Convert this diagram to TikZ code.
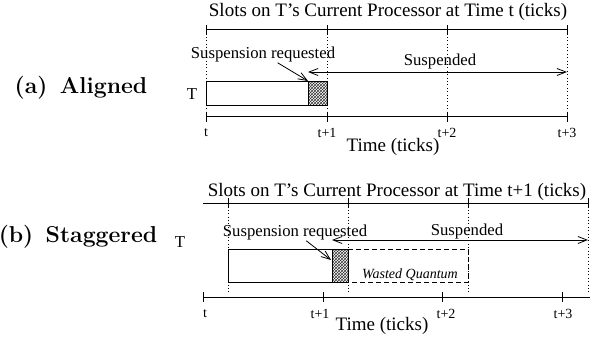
\documentclass[tikz,border=0pt]{standalone}
\usepackage{fontspec}
\newfontfamily\timesfont{Liberation Serif}
\usetikzlibrary{arrows.meta,patterns}

\tikzset{
  axis/.style={line width=1pt},
  slotline/.style={dash pattern=on 0.8pt off 2.6pt, line width=0.8pt},
  job/.style={draw, line width=1pt},
  hatchbox/.style={draw, line width=1pt, pattern=crosshatch, pattern color=black!80},
  wasted/.style={dash pattern=on 5pt off 3pt, line width=0.9pt},
  tip/.style={-{Straight Barb[length=9pt,width=7pt]}, line width=0.8pt},
  bothtip/.style={{Straight Barb[length=9pt,width=7pt]}-{Straight Barb[length=9pt,width=7pt]}, line width=0.8pt},
  bigtxt/.style={font=\timesfont\fontsize{19}{21}\selectfont, inner sep=1pt},
  midtxt/.style={font=\timesfont\fontsize{16.7}{19}\selectfont, inner sep=1pt},
  ticklab/.style={font=\timesfont\fontsize{14}{16}\selectfont, inner sep=1pt},
  panel/.style={font=\bfseries\fontsize{23}{26}\selectfont, inner sep=0pt},
}

\begin{document}
\begin{tikzpicture}[x=1pt,y=-1pt]
\useasboundingbox (0,0) rectangle (590,337);

% (a) aligned
\node[panel] (panA) at (81,88) {(a)\, Aligned};
\node[midtxt] (jobA) at (192,94) {T};
\node[bigtxt] (titleA) at (388,12) {Slots on T’s Current Processor at Time t (ticks)};
\draw[axis] (206,30) -- (567,30);
\draw[axis] (206,117) -- (567,117);
\foreach \x/\lab in {206/t,327/t+1,447/t+2,567/t+3} {
  \draw[axis] (\x,25) -- (\x,35);
  \draw[slotline] (\x,30) -- (\x,117);
  \draw[axis] (\x,112) -- (\x,122);
  \node[ticklab] (labA\x) at (\x,133) {\lab};
}
\node[bigtxt] (timeA) at (393,147) {Time (ticks)};

\draw[job] (206,82) rectangle (308,106);
\draw[hatchbox] (308,82) rectangle (327,106);
\coordinate (reqA) at (308,81);
\node[midtxt] (sreqA) at (263,54) {Suspension requested};
\draw[tip] (sreqA) -- (reqA);
\coordinate (susA1) at (308,72);
\coordinate (susA2) at (567,72);
\draw[bothtip] (susA1) -- (susA2);
\node[midtxt] (suspA) at (440,61) {Suspended};

% (b) staggered
\node[panel] (panB) at (78,237) {(b)\, Staggered};
\node[midtxt] (jobB) at (180,242) {T};
\node[bigtxt] (titleB) at (397,192) {Slots on T’s Current Processor at Time t+1 (ticks)};
\draw[axis] (203,203) -- (588,203);
\draw[axis] (203,297) -- (590,297);
\foreach \x in {228,348,468,588} {
  \draw[axis] (\x,198) -- (\x,208);
  \draw[slotline] (\x,203) -- (\x,293);
}
\foreach \x/\lx/\lab in {203/205/t,323/320/t+1,442/446/t+2,562/563/t+3} {
  \draw[axis] (\x,292) -- (\x,302);
  \node[ticklab] (labB\x) at (\lx,314) {\lab};
}
\node[bigtxt] (timeB) at (382,326) {Time (ticks)};

\draw[job] (228,249) rectangle (332,282);
\draw[hatchbox] (332,249) rectangle (348,282);
\draw[wasted] (348,249) -- (468,249) -- (468,282) -- (348,282);
\node[font=\timesfont\itshape\fontsize{14}{16}\selectfont, inner sep=1pt] (wastB) at (410,275) {Wasted Quantum};
\coordinate (reqB) at (331,260);
\node[midtxt] (sreqB) at (295,232) {Suspension requested};
\draw[tip] (sreqB) -- (reqB);
\coordinate (susB1) at (332,240);
\coordinate (susB2) at (588,240);
\draw[bothtip] (susB1) -- (susB2);
\node[midtxt] (suspB) at (467,231) {Suspended};
\end{tikzpicture}
\end{document}
